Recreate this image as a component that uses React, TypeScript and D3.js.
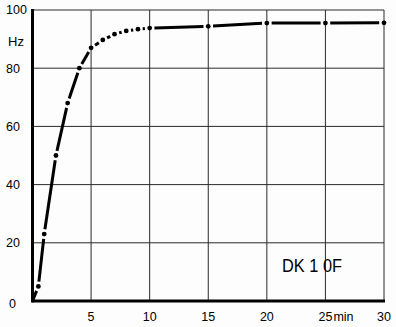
import React from "react";
import * as d3 from "d3";

const minutes = [0, 0.5, 1, 2, 3, 4, 5, 6, 7, 8, 9, 10, 15, 20, 25, 30];
const hertz = [0, 5, 23, 50, 68, 80, 87, 89.7, 91.7, 92.8, 93.4, 93.8, 94.4, 95.5, 95.5, 95.6];
const xTicks = [5, 10, 15, 20, 25, 30];
const yTicks = [0, 20, 40, 60, 80, 100];
const label = "DK 1 0F";

const W = 396;
const H = 327;

export default function App() {
  const x = d3.scaleLinear().domain([0, 30]).range([32.5, 384]);
  const y = d3.scaleLinear().domain([0, 100]).range([301, 10]);
  const pts = minutes.map((m, i) => [x(m), y(hertz[i])] as [number, number]);

  const segs: { x1: number; y1: number; x2: number; y2: number }[] = [];
  for (let i = 0; i < pts.length - 1; i++) {
    const [ax, ay] = pts[i];
    const [bx, by] = pts[i + 1];
    const dx = bx - ax, dy = by - ay;
    const len = Math.hypot(dx, dy);
    const g1 = i === 0 ? 0 : 4.8;
    const g2 = 4.8;
    if (len <= g1 + g2 + 1) continue;
    const ux = dx / len, uy = dy / len;
    segs.push({ x1: ax + ux * g1, y1: ay + uy * g1, x2: bx - ux * g2, y2: by - uy * g2 });
  }

  const font = "'Liberation Sans', Arial, sans-serif";

  return (
    <svg width={W} height={H} style={{ position: "absolute", left: 0, top: 0, background: "#fdfdfd" }}>
      {yTicks.filter(t => t > 0).map(t => (
        <line key={"gy" + t} x1={x(0)} x2={x(30)} y1={y(t)} y2={y(t)} stroke="#2a2a2a" strokeWidth={1} />
      ))}
      {xTicks.map(t => (
        <line key={"gx" + t} x1={x(t)} x2={x(t)} y1={y(0)} y2={y(100)} stroke="#2a2a2a" strokeWidth={1} />
      ))}
      <line x1={x(0)} x2={x(0)} y1={y(100) - 1} y2={y(0) + 1.5} stroke="#000" strokeWidth={3} />
      <line x1={x(0)} x2={x(30) + 1} y1={y(0)} y2={y(0)} stroke="#000" strokeWidth={3} />
      {segs.map((s, i) => (
        <line key={"s" + i} {...s} stroke="#000" strokeWidth={3} strokeLinecap="butt" />
      ))}
      {pts.slice(1).map((p, i) => (
        <circle key={"p" + i} cx={p[0]} cy={p[1]} r={2.4} fill="#000" />
      ))}
      {yTicks.map(t => (
        <text key={"yl" + t} x={t === 0 ? 9 : 6} y={y(t)} dy={t === 0 ? "0.55em" : "0.35em"}
          fontFamily={font} fontSize={12.5} fill="#000">{t}</text>
      ))}
      <text x={8} y={46} fontFamily={font} fontSize={13} fill="#000">Hz</text>
      {xTicks.map(t => (
        <text key={"xl" + t} x={x(t)} y={320.5} textAnchor="middle"
          fontFamily={font} fontSize={12.5} fill="#000">{t}</text>
      ))}
      <text x={x(25) + 8} y={320.5} fontFamily={font} fontSize={12.5} fill="#000">min</text>
      <text x={282} y={271.5} fontFamily="'Liberation Sans Narrow', 'Liberation Sans', sans-serif"
        fontSize={18.5} textLength={60} lengthAdjust="spacingAndGlyphs" fill="#000">{label}</text>
    </svg>
  );
}
